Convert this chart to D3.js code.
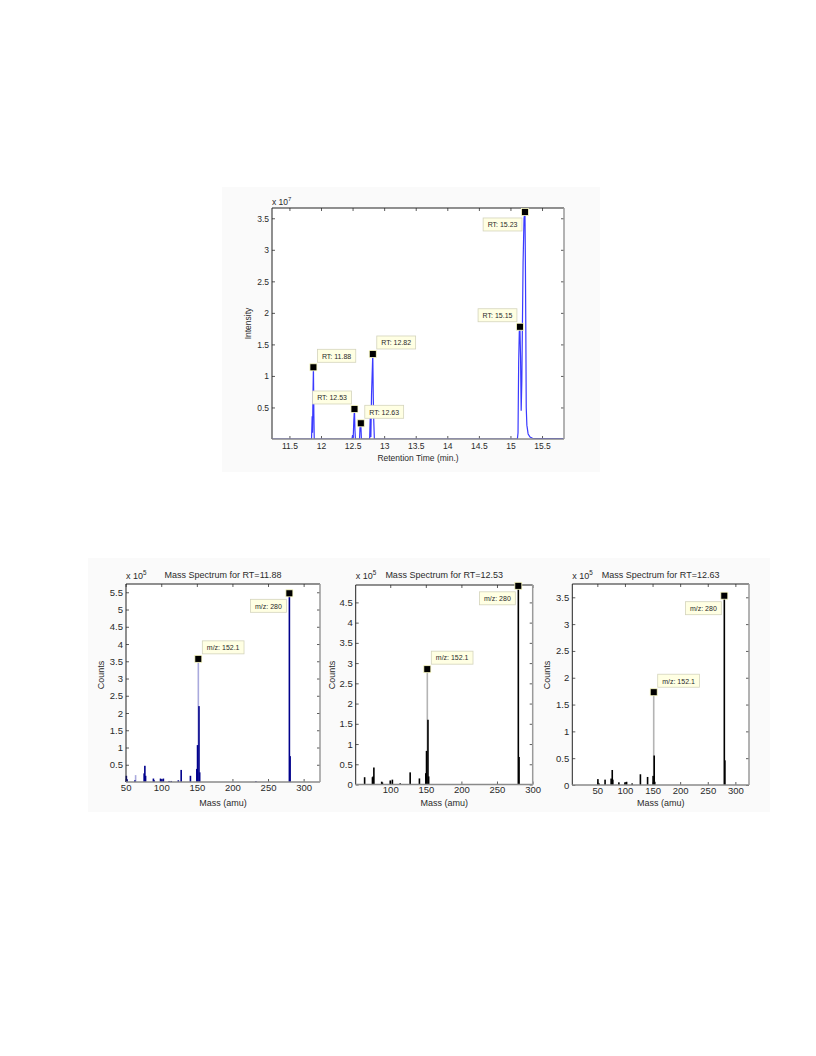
<!DOCTYPE html>
<html><head><meta charset="utf-8">
<script src="https://cdn.jsdelivr.net/npm/d3@7"></script>
<style>
body{margin:0;background:#fff}
text{font-family:"Liberation Sans",Arial,Helvetica,sans-serif;fill:#2a2a2a}
</style>
</head><body>
<svg id="c" width="816" height="1056"></svg>
<script>
// ---------------- DATA ----------------
// Chromatogram (retention time in min, intensity in units of 1e7)
const rtTime = [11.224,11.85,11.86,11.866,11.873,11.88,11.887,11.893,
  12.49,12.50,12.51,12.52,12.53,12.537,12.545,
  12.61,12.62,12.625,12.63,12.64,
  12.77,12.78,12.79,12.80,12.82,12.828,12.835,12.845,
  15.11,15.12,15.13,15.14,15.15,15.16,15.17,15.18,15.20,15.215,15.23,15.237,15.243,15.25,15.26,15.28,15.31,15.35,15.45,15.848];
const rtIntensity = [0,0,0.36,0.1,0.7,1.137,0.4,0,
  0,0.06,0.02,0.3,0.476,0.15,0,
  0,0.25,0.12,0.249,0,
  0,0.35,0.03,0.7,1.348,0.65,0.3,0,
  0,0.1,1.2,1.7,1.78,1.3,0.45,0.9,2.8,3.5,3.6,2.75,1.8,0.5,0.22,0.08,0.03,0.012,0.006,0.006];
const rtTipTimes = [11.88,12.53,12.63,12.82,15.15,15.23];
const rtTipValues = [1.137,0.476,0.249,1.348,1.78,3.60];
const rtXTicks = [11.5,12,12.5,13,13.5,14,14.5,15,15.5];
const rtYTicks = [0.5,1,1.5,2,2.5,3,3.5];

// Mass spectra (mass in amu, counts in units of 1e5)
const msTitles = ["Mass Spectrum for RT=11.88","Mass Spectrum for RT=12.53","Mass Spectrum for RT=12.63"];
const ms1Mass   = [51,52,63,76,77,78,89,90,99,101,103,111,114,124,128,141,150,151,153,154,233,280,281];
const ms1Counts = [0.18,0.08,0.05,0.25,0.47,0.18,0.1,0.05,0.1,0.08,0.1,0.03,0.03,0.05,0.35,0.18,0.38,1.07,2.2,0.28,0.02,5.47,0.75];
const ms1LightMass = [64,152.1];
const ms1LightCounts = [0.2,3.57];
const ms2Mass   = [64,75,76,77,88,89,100,103,114,128,141,150,151,153,154,280,281];
const ms2Counts = [0.18,0.18,0.2,0.42,0.07,0.05,0.1,0.12,0.03,0.3,0.15,0.28,0.83,1.6,0.2,4.91,0.68];
const ms2LightMass = [152.1];
const ms2LightCounts = [2.85];
const ms3Mass   = [51,53,64,75,77,78,89,100,103,113,128,141,151,153,154,280,281];
const ms3Counts = [0.11,0.03,0.1,0.12,0.28,0.1,0.05,0.05,0.06,0.03,0.2,0.15,0.17,0.55,0.06,3.53,0.46];
const ms3LightMass = [152.1];
const ms3LightCounts = [1.73];
const msTipMass = [152.1,280];
const ms1TipCounts = [3.57,5.47];
const ms2TipCounts = [2.85,4.91];
const ms3TipCounts = [1.73,3.53];
const ms1XTicks = [50,100,150,200,250,300];
const ms2XTicks = [100,150,200,250,300];
const ms3XTicks = [50,100,150,200,250,300];
const ms1YTicks = [0.5,1,1.5,2,2.5,3,3.5,4,4.5,5,5.5];
const ms2YTicks = [0,0.5,1,1.5,2,2.5,3,3.5,4,4.5];
const ms3YTicks = [0,0.5,1,1.5,2,2.5,3,3.5];

// ---------------- DRAW ----------------
const svg = d3.select("#c");
svg.append("rect").attr("x",222).attr("y",187).attr("width",378).attr("height",285).attr("fill","#fafafa");
svg.append("rect").attr("x",88).attr("y",558).attr("width",682).attr("height",254).attr("fill","#fafafa");

function frame(g, L, R, T, B, x, y, xt, yt, fs, xpad, ypad){
  g.append("rect").attr("x",L).attr("y",T).attr("width",R-L).attr("height",B-T).attr("fill","#fff");
  const ax = (axis, tx, ty) => {
    const a = g.append("g").attr("transform",`translate(${tx},${ty})`).call(axis);
    a.attr("font-size",fs).attr("font-family","'Liberation Sans',Arial,sans-serif");
    a.select(".domain").remove();
    a.selectAll("line").attr("stroke","#333").attr("stroke-width",0.8);
    a.selectAll("text").attr("fill","#2a2a2a");
    return a;
  };
  ax(d3.axisBottom(x).tickValues(xt).tickSize(-3).tickPadding(xpad).tickFormat(d=>String(d)), 0, B);
  ax(d3.axisTop(x).tickValues(xt).tickSize(-3).tickFormat(""), 0, T);
  ax(d3.axisLeft(y).tickValues(yt).tickSize(-3).tickPadding(ypad).tickFormat(d=>String(d)), L, 0);
  ax(d3.axisRight(y).tickValues(yt).tickSize(-3).tickFormat(""), R, 0);
}
function edges(g, L, R, T, B){
  g.append("line").attr("x1",L).attr("x2",R).attr("y1",T).attr("y2",T).attr("stroke","#222").attr("stroke-width",1);
  g.append("line").attr("x1",L).attr("x2",L).attr("y1",T).attr("y2",B).attr("stroke","#222").attr("stroke-width",1);
  g.append("line").attr("x1",L).attr("x2",R).attr("y1",B).attr("y2",B).attr("stroke","#8a8a8a").attr("stroke-width",1.5);
  g.append("line").attr("x1",R).attr("x2",R).attr("y1",T).attr("y2",B).attr("stroke","#9a9a9a").attr("stroke-width",1.5);
}
function tip(g, px, py, label, place, fs){
  const tg = g.append("g");
  const box = tg.append("rect");
  const t = tg.append("text").attr("font-size",fs).attr("fill","#333").text(label);
  const w = t.node().getComputedTextLength() + 9, h = 13;
  let bx, by;
  if(place==="ur"){bx=px+4; by=py-18;}
  else if(place==="ul"){bx=px-w-3; by=py-18;}
  else {bx=px-w-3; by=py+6;}
  box.attr("x",bx).attr("y",by).attr("width",w).attr("height",h)
    .attr("fill","#ffffe3").attr("stroke","#d4d4bc").attr("stroke-width",0.8);
  t.attr("x",bx+4.5).attr("y",by+9.3);
  tg.append("rect").attr("x",px-3.5).attr("y",py-3.5).attr("width",7).attr("height",7)
    .attr("fill","#000").attr("stroke","#ffffc8").attr("stroke-width",0.8);
}
function expo(g, x, y, p, fs){
  const t = g.append("text").attr("x",x).attr("y",y).attr("font-size",fs);
  t.append("tspan").text("x 10");
  t.append("tspan").attr("dy",-4).attr("font-size",fs*0.7).text(p);
}

// ---- Chromatogram ----
{
  const L=272,R=564,T=208,B=439;
  const g = svg.append("g");
  const x = d3.scaleLinear().domain([11.224,15.848]).range([L,R]);
  const y = d3.scaleLinear().domain([0,3.663]).range([B,T]);
  frame(g,L,R,T,B,x,y,rtXTicks,rtYTicks,8.5,4,3);
  g.append("clipPath").attr("id","cp0").append("rect").attr("x",L).attr("y",T-2).attr("width",R-L).attr("height",B-T+2);
  const line = d3.line().x(i=>x(rtTime[i])).y(i=>y(rtIntensity[i]));
  g.append("path").attr("clip-path","url(#cp0)").attr("d",line(d3.range(rtTime.length)))
    .attr("fill","none").attr("stroke","#3a3aff").attr("stroke-width",1.2);
  edges(g,L,R,T,B);
  const places=["ur","ul","ur","ur","ul","ll"];
  rtTipTimes.forEach((t,i)=>tip(g,x(t),y(rtTipValues[i]),"RT: "+t.toFixed(2),places[i],7));
  expo(g,L,205,"7",8.5);
  g.append("text").attr("x",(L+R)/2).attr("y",461).attr("text-anchor","middle").attr("font-size",8.5).text("Retention Time (min.)");
  g.append("text").attr("transform",`translate(251,${(T+B)/2}) rotate(-90)`).attr("text-anchor","middle").attr("font-size",8.5).attr("fill","#4a3434").text("Intensity");
}

// ---- Mass spectra ----
const panels = [
  {L:126,R:320,T:584,B:782,xd:[50.5,323],yd:[0,5.74],mass:ms1Mass,cnt:ms1Counts,lm:ms1LightMass,lc:ms1LightCounts,tc:ms1TipCounts,xt:ms1XTicks,yt:ms1YTicks,col:"#00008c",light:"#aaaadd",lab:104},
  {L:355.7,R:532.7,T:585,B:784.5,xd:[51.46,300.2],yd:[0,4.93],mass:ms2Mass,cnt:ms2Counts,lm:ms2LightMass,lc:ms2LightCounts,tc:ms2TipCounts,xt:ms2XTicks,yt:ms2YTicks,col:"#000",light:"#b4b4b4",lab:335},
  {L:572.3,R:749,T:584,B:785,xd:[4.64,324.7],yd:[0,3.748],mass:ms3Mass,cnt:ms3Counts,lm:ms3LightMass,lc:ms3LightCounts,tc:ms3TipCounts,xt:ms3XTicks,yt:ms3YTicks,col:"#000",light:"#b4b4b4",lab:550}
];
panels.forEach((p,k)=>{
  const g = svg.append("g");
  const x = d3.scaleLinear().domain(p.xd).range([p.L,p.R]);
  const y = d3.scaleLinear().domain(p.yd).range([p.B,p.T]);
  frame(g,p.L,p.R,p.T,p.B,x,y,p.xt,p.yt,9.5,2,3);
  g.append("g").selectAll("rect").data(p.lm).join("rect").attr("x",(d)=>x(d)-0.8).attr("width",1.6)
    .attr("y",(d,i)=>y(p.lc[i])).attr("height",(d,i)=>p.B-y(p.lc[i])).attr("fill",p.light);
  g.append("g").selectAll("rect").data(p.mass).join("rect").attr("x",(d)=>x(d)-0.8).attr("width",1.6)
    .attr("y",(d,i)=>y(p.cnt[i])).attr("height",(d,i)=>p.B-y(p.cnt[i])).attr("fill",p.col);
  edges(g,p.L,p.R,p.T,p.B);
  msTipMass.forEach((m,i)=>tip(g,x(m),y(p.tc[i]),"m/z: "+m,i===0?"ur":"ll",7));
  expo(g,p.L,578.5,"5",9);
  g.append("text").attr("x",(p.L+p.R)/2).attr("y",578).attr("text-anchor","middle").attr("font-size",9).text(msTitles[k]);
  g.append("text").attr("x",(p.L+p.R)/2).attr("y",806).attr("text-anchor","middle").attr("font-size",9).text("Mass (amu)");
  g.append("text").attr("transform",`translate(${p.lab},675) rotate(-90)`).attr("text-anchor","middle").attr("font-size",9).text("Counts");
});
</script>
</body></html>
